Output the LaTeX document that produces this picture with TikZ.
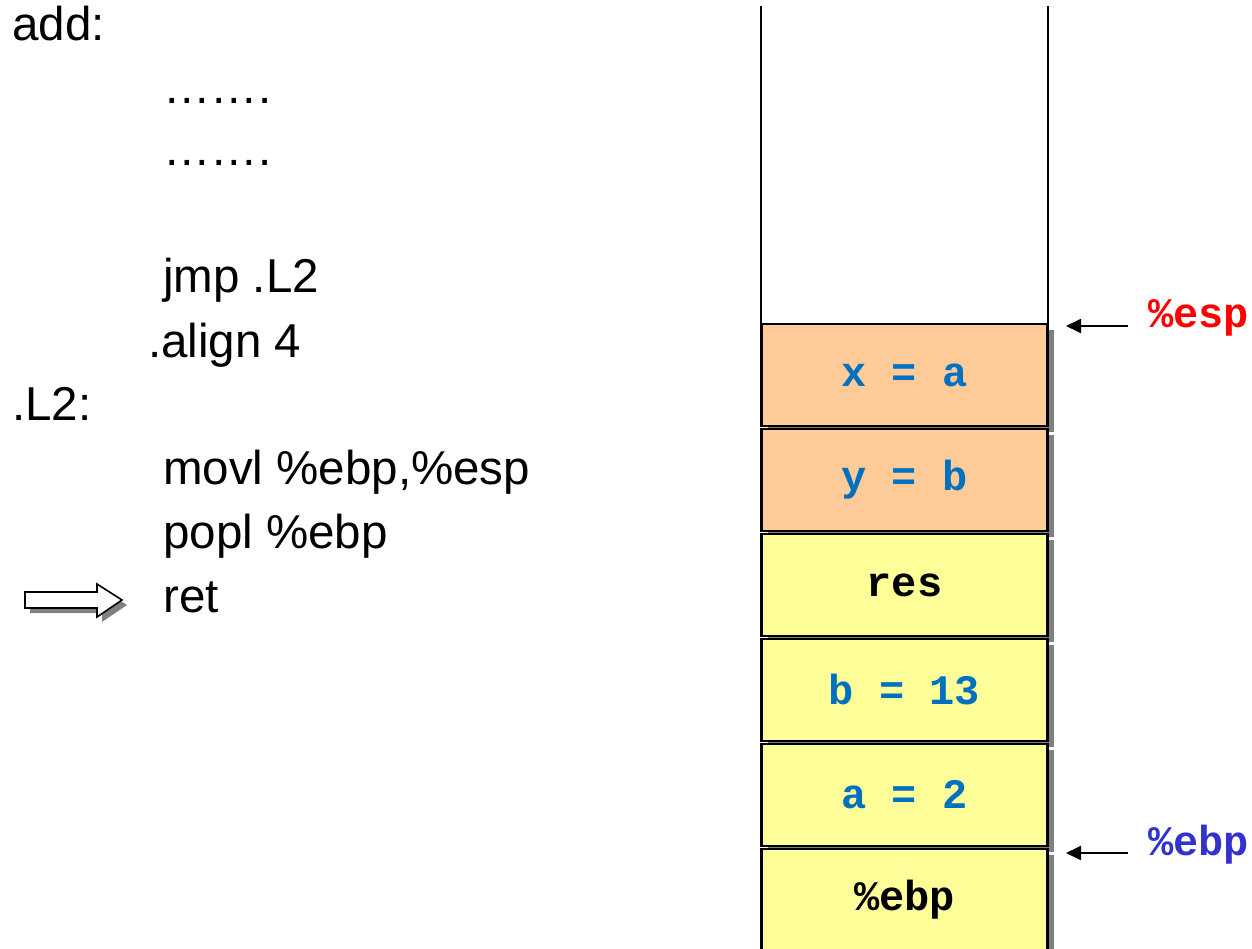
\documentclass[tikz,border=0pt]{standalone}
\usepackage{fontspec}
\setmainfont{Liberation Sans}
\newfontfamily\courbf{Liberation Mono}[BoldFont={Liberation Mono Bold}]
\usetikzlibrary{arrows.meta,shadows}
\definecolor{cellorange}{RGB}{255,204,153}
\definecolor{cellyellow}{RGB}{255,255,153}
\definecolor{valblue}{RGB}{0,112,192}
\definecolor{ebpblue}{RGB}{51,51,204}
\definecolor{espred}{RGB}{255,0,0}
\definecolor{shadowgray}{RGB}{128,128,128}
\tikzset{
  code/.style={anchor=base west, inner sep=0pt, font=\fontsize{47.5}{50}\selectfont},
  cell/.style={draw=black, line width=2.6pt, minimum width=286pt, minimum height=102pt,
    inner sep=0pt, font=\fontsize{42}{44}\courbf\bfseries,
    drop shadow={shadow xshift=6pt, shadow yshift=-6pt, fill=shadowgray, opacity=1}},
  reglabel/.style={anchor=west, inner sep=0pt, font=\fontsize{42}{44}\courbf\bfseries},
  ptr/.style={-{Triangle[length=15pt,width=14pt]}, line width=2pt},
  wall/.style={line width=2.6pt}
}
\begin{document}
\begin{tikzpicture}[x=1pt,y=-1pt]
\useasboundingbox (0,0) rectangle (1252,949);
% code listing
\node[code] (l1) at (12,41) {add:};
\node[code] (l2) at (163,104) {…….};
\node[code] (l3) at (163,166) {…….};
\node[code] (l4) at (163,293) {jmp .L2};
\node[code] (l5) at (148,357) {.align 4};
\node[code] (l6) at (12,420) {.L2:};
\node[code] (l7) at (163,484) {movl \%ebp,\%esp};
\node[code] (l8) at (163,548) {popl \%ebp};
\node[code] (l9) at (163,612) {ret};
% block arrow (current instruction)
\begin{scope}[shift={(5,5)}]
\fill[shadowgray] (25,592) -- (97,592) -- (97,584) -- (122,600) -- (97,617) -- (97,608) -- (25,608) -- cycle;
\end{scope}
\draw[fill=white, line width=1.6pt, line join=miter] (25,592) -- (97,592) -- (97,584) -- (122,600) -- (97,617) -- (97,608) -- (25,608) -- cycle;
% stack walls
\coordinate (wlt) at (761,6);
\coordinate (wlb) at (761,324);
\coordinate (wrt) at (1048,6);
\coordinate (wrb) at (1048,324);
\draw[wall] (wlt) -- (wlb);
\draw[wall] (wrt) -- (wrb);
% stack cells
\node[cell, fill=cellorange, text=valblue] (c1) at (904.5,375) {x = a};
\node[cell, fill=cellorange, text=valblue] (c2) at (904.5,480) {y = b};
\node[cell, fill=cellyellow, text=black] (c3) at (904.5,585) {res};
\node[cell, fill=cellyellow, text=valblue] (c4) at (904.5,690) {b = 13};
\node[cell, fill=cellyellow, text=valblue] (c5) at (904.5,795) {a = 2};
\node[cell, fill=cellyellow, text=black] (c6) at (904.5,900) {\%ebp};
% register pointers
\node[reglabel, text=espred] (esp) at (1148,318) {\%esp};
\node[reglabel, text=ebpblue] (ebp) at (1148,845) {\%ebp};
\coordinate (espend) at (1128,326);
\coordinate (ebpend) at (1128,853);
\draw[ptr] (espend) -- (1066,326);
\draw[ptr] (ebpend) -- (1066,853);
\end{tikzpicture}
\end{document}
